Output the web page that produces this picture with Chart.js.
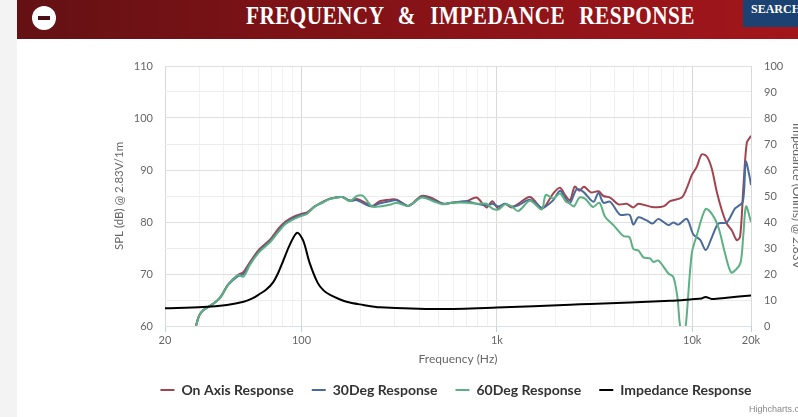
<!DOCTYPE html>
<html>
<head>
<meta charset="utf-8">
<title>Frequency & Impedance Response</title>
<script src="https://cdn.jsdelivr.net/npm/chart.js@4/dist/chart.umd.min.js"></script>
<style>
html, body { margin: 0; padding: 0; width: 798px; height: 417px; overflow: hidden; background: #fff; }
#strip { position: absolute; left: 0; top: 0; width: 17px; height: 417px; background: #f3f3f3; }
#banner { position: absolute; left: 17px; top: 0; width: 781px; height: 39px; background: linear-gradient(90deg, #641114 0%, #7d1216 35%, #a3161b 100%); }
#minus { position: absolute; left: 32px; top: 6px; width: 24px; height: 24px; border-radius: 50%; background: #fff; }
#minus i { position: absolute; left: 6px; top: 10px; width: 12px; height: 4px; background: #4a1015; }
#title { position: absolute; left: 246px; top: 2px; color: #fff; font: bold 25px "Liberation Serif", serif; letter-spacing: 0.5px; word-spacing: 10px; white-space: nowrap; transform: scaleX(0.85); transform-origin: left top; }
#search { position: absolute; left: 743px; top: 0; width: 55px; height: 27px; background: #1c4274; color: #fff; font: bold 12px "Liberation Serif", serif; line-height: 19px; padding-left: 8px; box-sizing: border-box; overflow: hidden; white-space: nowrap; }
#holder { position: absolute; left: 114px; top: 40px; width: 684px; height: 367px; }
#credit { position: absolute; left: 749px; top: 404px; width: 49px; overflow: hidden; white-space: nowrap; font: 9px "Liberation Sans", sans-serif; color: #888; }
</style>
</head>
<body>
<div id="strip"></div>
<div id="banner"></div>
<div id="minus"><i></i></div>
<div id="title">FREQUENCY &amp; IMPEDANCE RESPONSE</div>
<div id="search">SEARCH</div>
<div id="holder"><canvas id="chart"></canvas></div>
<div id="credit">Highcharts.com</div>
<script>
// values
const seriesNames = ['On Axis Response', '30Deg Response', '60Deg Response', 'Impedance Response'];
const seriesColors = ['#a2444f', '#4a6b9a', '#5cb083', '#000000'];

const onAxisHz = [28, 28.8, 29.9, 31.3, 35.1, 38.3, 42.1, 47.2, 50.5, 54.5, 61, 69, 76.5, 82.8, 90.8, 100.5, 106, 117, 129, 140, 161, 177, 192, 207, 229, 252, 283, 307, 352, 412, 472, 531, 587, 700, 787, 886, 947, 1017, 1100, 1190, 1287, 1477, 1696, 1780, 1945, 2104, 2250, 2370, 2503, 2645, 2796, 3024, 3311, 3510, 3799, 4191, 4625, 5000, 5304, 6210, 7122, 7705, 8840, 9380, 9947, 10550, 11190, 11880, 12590, 13360, 14170, 15030, 15940, 16910, 17590, 18290, 19030, 19870, 20000];
const onAxisDb = [58.5, 60, 62, 63, 64.2, 65.5, 68, 69.8, 70.4, 72.3, 74.8, 76.6, 78.8, 80.1, 81, 81.6, 81.8, 83, 83.9, 84.5, 84.8, 84.1, 84.4, 83.9, 83.1, 84, 84.3, 84.3, 83.1, 85, 84.5, 83.5, 83.7, 84, 84.7, 82.8, 84, 82.6, 83.5, 82.8, 83.5, 84.8, 82.6, 83.2, 85.5, 86.6, 85, 84.2, 86.8, 86, 86.8, 85.7, 85.9, 85, 84.7, 83.4, 83.5, 82.8, 83.5, 82.9, 83, 84, 84.7, 86.5, 89, 90.6, 93, 92.6, 90.3, 85.8, 82.3, 79.7, 78.4, 76.5, 77.2, 86.8, 95.2, 96.4, 96.6];

const deg30Hz = [28, 28.8, 29.9, 31.3, 35.1, 38.3, 42.1, 47.2, 50.5, 54.5, 61, 69, 76.5, 82.8, 90.8, 100.5, 106, 117, 129, 140, 161, 177, 192, 207, 229, 252, 283, 307, 352, 412, 472, 531, 587, 700, 787, 886, 947, 1017, 1100, 1190, 1287, 1477, 1696, 1780, 1945, 2104, 2250, 2370, 2564, 2773, 3121, 3311, 3510, 3799, 4270, 4770, 5000, 5304, 5850, 6280, 6715, 7556, 8012, 8500, 9380, 10140, 10970, 11740, 12590, 13620, 15030, 16570, 18150, 18800, 19600, 20000];
const deg30Db = [58.5, 60, 62, 63, 64.2, 65.4, 67.9, 69.6, 70, 72, 74.5, 76.3, 78.4, 79.8, 80.7, 81.4, 81.6, 83, 83.8, 84.5, 84.8, 84.1, 84.2, 83.6, 83, 83.6, 84, 84.2, 83.1, 84.8, 84.2, 83.5, 83.7, 84, 83.5, 83.2, 83.5, 83, 83.5, 83, 83.2, 84.3, 82.7, 83, 84.2, 86, 84.5, 83.7, 86.3, 85.8, 83.9, 85.6, 83.7, 83.9, 81.4, 81.4, 79.5, 80.9, 80.3, 79.7, 80.6, 79.4, 79.9, 79.5, 80.6, 77.6, 76.6, 74.6, 77, 79.7, 79.9, 82.6, 83.9, 91.6, 89, 87.1];

const deg60Hz = [28, 28.8, 29.9, 31.3, 35.1, 38.3, 42.1, 47.2, 50.5, 54.5, 61, 69, 76.5, 82.8, 90.8, 100.5, 106, 117, 129, 140, 161, 177, 192, 207, 229, 252, 283, 307, 352, 412, 472, 531, 587, 700, 787, 886, 947, 1017, 1100, 1190, 1287, 1477, 1696, 1780, 1945, 2104, 2250, 2370, 2484, 2645, 2827, 3103, 3350, 3581, 3950, 4445, 4770, 5000, 5304, 5626, 6087, 6330, 6715, 7556, 8012, 8402, 8670, 9020, 9270, 9947, 10550, 11700, 12590, 13620, 14740, 15820, 16910, 17720, 18290, 18870, 20000];
const deg60Db = [58.5, 60, 62, 63, 64.2, 65.4, 67.9, 69.8, 69.5, 71.8, 74.3, 76.1, 78.2, 79.6, 80.5, 81.2, 81.5, 83, 83.8, 84.4, 84.8, 84, 85, 85, 83, 83, 83.3, 83.7, 83.1, 84.7, 84, 83.4, 83.7, 83.7, 83.5, 83.5, 82.6, 82.4, 83.4, 83, 82.1, 84.1, 82.4, 85.2, 84.5, 85.5, 84, 83.5, 83, 84.7, 84.5, 82.9, 83.7, 81, 79.4, 77.3, 77.1, 74.8, 74.5, 73.2, 73, 72.3, 72.6, 70.1, 69.4, 65.5, 60, 58.4, 60, 73.9, 77.4, 82.5, 81.6, 79, 73.9, 70.3, 71, 72.3, 77.7, 83, 80];

const impedanceHz = [20, 31.3, 41.5, 50.5, 56, 61, 66, 71.5, 76, 80.5, 87.5, 95, 102, 110, 121, 130, 140, 170, 207, 252, 512, 1000, 2370, 3000, 7705, 10000, 11190, 11700, 12590, 15030, 20000];
const impedanceOhm = [6.8, 7.3, 8.1, 9.3, 10.6, 12.3, 14, 16.8, 20.5, 25, 31.6, 35.9, 32.8, 24.3, 16.6, 13.6, 12, 9.3, 8.1, 7.2, 6.5, 7.1, 8.2, 8.5, 9.7, 10.3, 10.6, 11.2, 10.4, 10.9, 11.7];

const xGridHz = [20, 30, 40, 50, 60, 70, 80, 90, 100, 200, 300, 400, 500, 600, 700, 800, 900, 1000, 2000, 3000, 4000, 5000, 6000, 7000, 8000, 9000, 10000, 20000];
const xTickLabels = { 20: '20', 100: '100', 1000: '1k', 10000: '10k', 20000: '20k' };

const textFont = 'Lato';

function pairs(xs, ys) {
    return xs.map((x, i) => ({ x: x, y: ys[i] }));
}

function makeDataset(i, xs, ys, axis) {
    return {
        label: seriesNames[i],
        data: pairs(xs, ys),
        borderColor: seriesColors[i],
        backgroundColor: seriesColors[i],
        borderWidth: 2,
        pointRadius: 0,
        tension: 0.3,
        yAxisID: axis,
        order: 4 - i
    };
}

new Chart(document.getElementById('chart').getContext('2d'), {
    type: 'line',
    data: {
        datasets: [
            makeDataset(0, onAxisHz, onAxisDb, 'y'),
            makeDataset(1, deg30Hz, deg30Db, 'y'),
            makeDataset(2, deg60Hz, deg60Db, 'y'),
            makeDataset(3, impedanceHz, impedanceOhm, 'y1')
        ]
    },
    options: {
        responsive: true,
        maintainAspectRatio: false,
        animation: false,
        layout: { padding: { top: 26, bottom: 0 } },
        plugins: {
            tooltip: { enabled: false },
            legend: {
                position: 'bottom',
                labels: {
                    usePointStyle: true,
                    pointStyle: 'line',
                    pointStyleWidth: 14,
                    padding: 18,
                    color: '#333333',
                    font: { family: textFont, size: 14, weight: 'bold' },
                    sort: (a, b) => a.datasetIndex - b.datasetIndex
                }
            }
        },
        scales: {
            x: {
                type: 'logarithmic',
                min: 20,
                max: 20000,
                afterBuildTicks: scale => { scale.ticks = xGridHz.map(v => ({ value: v })); },
                afterFit: scale => { scale.height = 39; },
                ticks: {
                    autoSkip: false,
                    maxRotation: 0,
                    padding: 2,
                    color: '#666666',
                    font: { family: textFont, size: 11 },
                    callback: v => xTickLabels[v] || ''
                },
                grid: {
                    color: c => (xTickLabels[c.tick.value] ? '#d9d9d9' : '#f1f1f1'),
                    tickColor: c => (xTickLabels[c.tick.value] ? '#c0d0e0' : 'transparent'),
                    tickLength: 6
                },
                border: { display: false },
                title: {
                    display: true,
                    text: 'Frequency (Hz)',
                    color: '#666666',
                    padding: { top: 3, bottom: -1 },
                    font: { family: textFont, size: 12 }
                }
            },
            y: {
                min: 60,
                max: 110,
                afterFit: scale => { scale.width = 51; },
                ticks: {
                    stepSize: 5,
                    autoSkip: false,
                    padding: 12,
                    color: '#666666',
                    font: { family: textFont, size: 11 },
                    callback: v => (v % 10 === 0 ? v : '')
                },
                grid: {
                    drawTicks: false,
                    color: c => (c.tick.value % 10 === 0 ? '#e0e0e0' : '#ececec')
                },
                border: { display: false },
                title: {
                    display: true,
                    text: 'SPL (dB) @ 2.83V/1m',
                    color: '#666666',
                    padding: { top: -2, bottom: 0 },
                    font: { family: textFont, size: 11.5 }
                }
            },
            y1: {
                position: 'right',
                min: 0,
                max: 100,
                afterFit: scale => { scale.width = 47; },
                ticks: {
                    stepSize: 10,
                    padding: 5,
                    color: '#666666',
                    font: { family: textFont, size: 11 }
                },
                grid: { display: false },
                border: { display: false },
                title: {
                    display: true,
                    text: 'Impedance (Ohms) @ 2.83V',
                    color: '#666666',
                    padding: { top: -6, bottom: 0 },
                    font: { family: textFont, size: 12 }
                }
            }
        }
    }
});
</script>
</body>
</html>
